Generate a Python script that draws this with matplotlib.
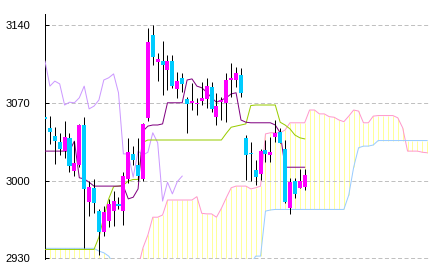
import matplotlib
matplotlib.use("Agg")
import matplotlib.pyplot as plt
import numpy as np

plt.rcParams['lines.scale_dashes'] = False
plt.rcParams['patch.antialiased'] = False
plt.rcParams['font.family'] = ['Liberation Sans', 'DejaVu Sans']

# --- candles (54 sessions) ---
opens = [3057, 3047, 3040, 3035, 3027, 3038, 3009, 3014, 3050, 2981,
         2993, 2973, 2954, 2964, 2973, 2979, 2973, 3001, 3024, 3014,
         3001, 3056, 3131, 3107, 3108, 3099.5, 3107.5, 3082, 3092.5, 3073.5,
         3070, 3068.5, 3072, 3073, 3084.5, 3057.5, 3070.5, 3070, 3090.5, 3090.5,
         3095, 3038, 3025, 3009.5, 3006, 3027.5, 3023, 3039, 3044, 3028,
         2975, 3000, 2993, 2994]
highs = [3058, 3058, 3048, 3043, 3054, 3043, 3036, 3051, 3057, 3000,
         3001, 2974, 2977, 2983, 2991, 2985, 3008, 3038, 3031, 3038,
         3052, 3137, 3140, 3115, 3126, 3113, 3113, 3098, 3097, 3075,
         3087.5, 3074, 3089, 3092, 3089, 3078.5, 3075.5, 3096.5, 3105.5, 3102.5,
         3101, 3041, 3035, 3018.5, 3028, 3036.5, 3039.5, 3054.5, 3047, 3036.5,
         3002, 3002, 3010, 3010]
lows = [3054, 3033, 3015, 3023, 3020, 3008, 3004, 3012, 2939, 2968,
        2971, 2933, 2950, 2958, 2959, 2974, 2960, 2998, 3014, 3000,
        2999.5, 3054, 3104, 3090, 3077, 3081.5, 3083, 3074, 3080, 3043,
        3063.5, 3059, 3068, 3065, 3062, 3050, 3054.5, 3053, 3075.5, 3084.5,
        3075.5, 3000.5, 2999.5, 2996, 3000.5, 3017, 3017, 3035, 3033.5, 2980,
        2970, 2984.5, 2993, 2991.5]
closes = [3055, 3044, 3036, 3028, 3039, 3013, 3016, 3050, 2992, 2994,
          2980, 2954, 2972, 2979, 2982, 2977.5, 3004, 3026, 3018.5, 3004,
          3051, 3125, 3111, 3109, 3104, 3108, 3085.5, 3090, 3086.5, 3068.5,
          3071, 3070, 3074, 3085, 3064, 3067, 3072.5, 3090.5, 3092, 3096.5,
          3078.5, 3023, 3024, 3003.5, 3026.5, 3023.5, 3026, 3043, 3034, 2981,
          2999, 2988, 2999.5, 3005]

# --- ichimoku lines ---
tenkan = [3026.5, 3026.5, 3026.5, 3026.5, 3026.5, 3026.5, 3035.5, 3002.5, 3001.5, 2998.5,
          2995, 2995, 2995, 2995, 2995, 2995, 2995, 2983.5, 2985, 2992.5,
          3044.5, 3049, 3050, 3050, 3051, 3070, 3070, 3070, 3070, 3090.5,
          3091.5, 3085, 3083.5, 3079.5, 3074.5, 3070.5, 3072.5, 3074.5, 3078, 3079,
          3054.5, 3052.5, 3052, 3052, 3052, 3052, 3052, 3050, 3043, 3012,
          3012, 3012, 3012, 3012]
kijun = [2938, 2938, 2938, 2938, 2938, 2938, 2938, 2938, 2938, 2938,
         2938, 2949, 2967, 2983.5, 2994.5, 2995, 2996, 2999.5, 3001, 3001,
         3034.5, 3036.5, 3036.5, 3036.5, 3036.5, 3036.5, 3036.5, 3036.5, 3036.5, 3036.5,
         3036.5, 3036.5, 3036.5, 3036.5, 3036.5, 3036.5, 3036.5, 3042.5, 3048, 3049,
         3050, 3051, 3067.5, 3068, 3068, 3068, 3068, 3068, 3052.5, 3050,
         3046.5, 3041, 3038.5, 3037.5]
chikou = [3107.5, 3085, 3089.5, 3087, 3068, 3070.5, 3070, 3074.5, 3085, 3064.5,
          3067, 3072.5, 3090.5, 3092.5, 3096, 3079, 3024, 3024, 3003, 3026.5,
          3023, 3025.5, 3043, 3034, 2981.5, 2998.5, 2988, 2999, 3004]
span_a = [2922, 2922, 2922, 2922, 2922, 2922, 2922, 2922, 2922, 2922,
          2922, 2922, 2922, 2922, 2922, 2922, 2922, 2922, 2922, 2922,
          2939.5, 2951, 2967, 2967, 2969, 2982.5, 2982.5, 2982.5, 2982.5, 2982.5,
          2982.5, 2985.5, 2970.5, 2970, 2970, 2967, 2975, 2984.5, 2993.5, 2995,
          2995, 2995, 2992.5, 2993.5, 2995, 3042, 3043, 3043, 3043, 3045.5,
          3052, 3052, 3052, 3052, 3063.5, 3063.5, 3060, 3060, 3057.5, 3057,
          3054.5, 3053, 3058, 3063.5, 3062.5, 3052, 3052, 3058, 3058.5, 3058.5,
          3058.5, 3058.5, 3056.5, 3047.5, 3026.5, 3026.5, 3026.5, 3025.5, 3025]
span_b = [2939, 2939, 2939, 2939, 2939, 2939, 2939, 2939, 2939, 2939,
          2939, 2936.5, 2935, 2932, 2925, 2925, 2925, 2925, 2925, 2925,
          2925, 2925, 2925, 2925, 2925, 2925, 2925, 2925, 2925, 2925,
          2925, 2925, 2925, 2925, 2925, 2925, 2925, 2925, 2925, 2925,
          2925, 2925, 2925, 2932, 2932, 2972.5, 2973.5, 2974, 2974, 2974,
          2974, 2974, 2974, 2974, 2974, 2974, 2974, 2974, 2974, 2974,
          2974, 2974, 2987, 3012, 3029.5, 3031, 3031, 3032, 3036, 3036,
          3036, 3036, 3036, 3036, 3036, 3036, 3036, 3036, 3036]

yticks = [2930, 3000, 3070, 3140]

PX = 72 / 100  # one pixel in points

fig = plt.figure(figsize=(4.32, 2.72), dpi=100)
ax = fig.add_axes([45 / 432, 12.9 / 272, 385.1 / 432, 245.2 / 272])

xc = np.arange(len(span_a))
a = np.array(span_a)
b = np.array(span_b)
ax.vlines(xc, np.minimum(a, b), np.maximum(a, b), color='#FFFF99', lw=PX, zorder=1)
for v in yticks:
    ax.axhline(v, color='#C0C0C0', lw=PX, ls=(0, (2.9, 1.8)), zorder=1.5)
ax.plot(xc, a, color='#FF99CC', lw=PX, zorder=2)
ax.plot(xc, b, color='#99CCFF', lw=PX, zorder=2)
ax.plot(np.arange(len(chikou)), chikou, color='#CC99FF', lw=PX, zorder=3)

x = np.arange(len(closes))
ax.plot(x, kijun, color='#99CC00', lw=PX, zorder=3)
ax.plot(x, tenkan, color='#800080', lw=PX, zorder=3)

o = np.array(opens)
c = np.array(closes)
ax.vlines(x, lows, highs, color='black', lw=PX, zorder=4)
body = np.maximum(np.abs(c - o), 1.2)
cols = np.where(c >= o, '#FF00FF', '#00CCFF')
ax.bar(x, body, bottom=np.minimum(o, c), width=0.82, color=cols, lw=0, zorder=5)

ax.set_xlim(0, 78.6)
ax.set_ylim(2929.3, 3150)
ax.set_xticks([])
ax.set_yticks(yticks)
ax.tick_params(axis='y', direction='in', length=2.9, width=PX, pad=10.8,
               labelsize=8, colors='black')
for s in ['top', 'right', 'bottom']:
    ax.spines[s].set_visible(False)
ax.spines['left'].set_linewidth(PX)

fig.savefig('out.png', dpi=100)
